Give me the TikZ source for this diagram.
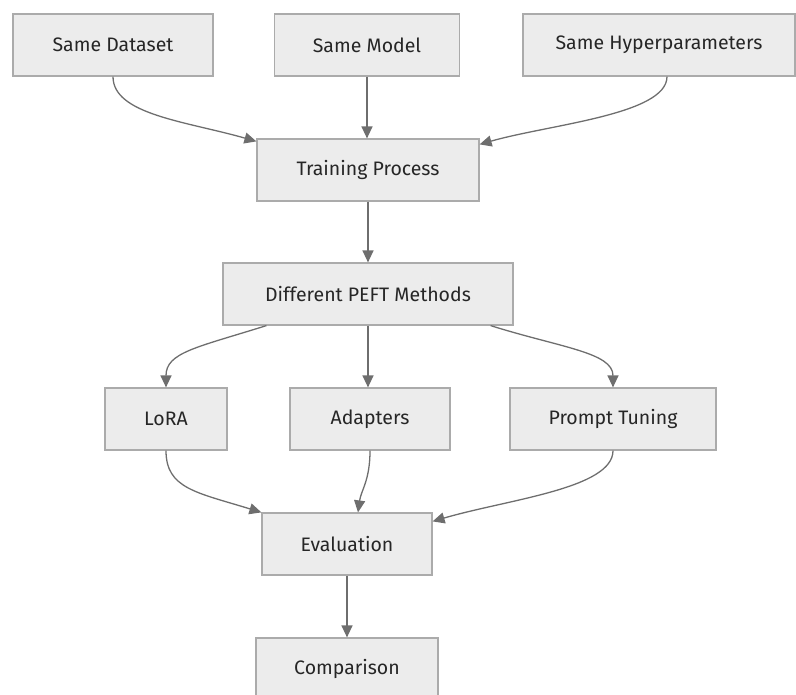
\documentclass[tikz,border=0pt]{standalone}
\usepackage{fontspec}
\setmainfont{Fira Sans}
\usetikzlibrary{arrows.meta}
\definecolor{boxfill}{HTML}{ECECEC}
\definecolor{boxline}{HTML}{ABABAB}
\definecolor{edgeline}{HTML}{6E6E6E}
\begin{document}
\begin{tikzpicture}[x=1pt,y=-1pt]
    \tikzstyle{box}=[draw=boxline,fill=boxfill,line width=1.2pt,minimum height=62pt,inner sep=0pt,font=\fontsize{19.5}{23}\selectfont,text=black!85]
    \tikzstyle{arrow}=[draw=edgeline,line width=1.3pt,-{Triangle[length=12pt,width=11pt]}]
    \useasboundingbox (0,0) rectangle (796,695);
    % inputs
    \node[box,minimum width=200pt] (dataset) at (113,45) {Same Dataset};
    \node[box,minimum width=185pt] (model) at (367,45) {Same Model};
    \node[box,minimum width=272pt] (hyper) at (659,45) {Same Hyperparameters};
    % training
    \node[box,minimum width=222pt] (training) at (368,170) {Training Process};
    \node[box,minimum width=290pt] (peft) at (368,294) {Different PEFT Methods};
    % methods
    \node[box,minimum width=122pt] (lora) at (166,419) {LoRA};
    \node[box,minimum width=160pt] (adapters) at (370,419) {Adapters};
    \node[box,minimum width=206pt] (prompt) at (613,419) {Prompt Tuning};
    % results
    \node[box,minimum width=170pt] (eval) at (347,544) {Evaluation};
    \node[box,minimum width=182pt] (compare) at (347,669) {Comparison};
    % inputs to training
    \draw[arrow] (dataset.south) .. controls +(0,38) and +(-70,-20) .. ([yshift=-3pt]training.north west);
    \draw[arrow] (model.south) -- (model.south |- training.north);
    \draw[arrow] ([xshift=8pt]hyper.south) .. controls +(0,38) and +(70,-20) .. ([yshift=-6pt]training.north east);
    \draw[arrow] (training) -- (peft);
    % methods
    \draw[arrow] ([xshift=44pt]peft.south west) .. controls +(-70,22) and +(0,-35) .. (lora.north);
    \draw[arrow] (peft.south) -- (peft.south |- adapters.north);
    \draw[arrow] ([xshift=-23pt]peft.south east) .. controls +(70,22) and +(0,-35) .. (prompt.north);
    % evaluation
    \draw[arrow] (lora.south) .. controls +(0,38) and +(-65,-20) .. (eval.north west);
    \draw[arrow] (adapters.south) .. controls +(0,30) and +(3,-22) .. ([xshift=11pt]eval.north);
    \draw[arrow] (prompt.south) .. controls +(0,38) and +(75,-22) .. ([yshift=-9pt]eval.north east);
    \draw[arrow] (eval) -- (compare);
\end{tikzpicture}
\end{document}
